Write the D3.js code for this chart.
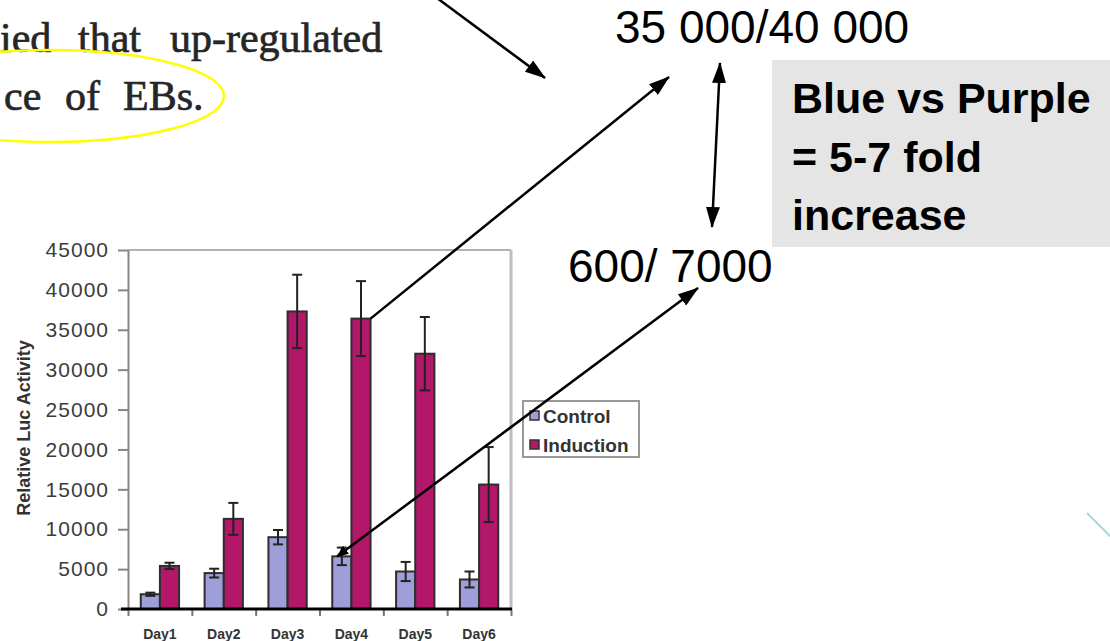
<!DOCTYPE html>
<html>
<head>
<meta charset="utf-8">
<script src="https://cdn.jsdelivr.net/npm/d3@7"></script>
<style type="text/css">
	body { margin:0; background:#fff; overflow:hidden; }
	.tick text { font-family:"Liberation Sans", Arial, sans-serif; }
</style>
</head>
<body>
<svg id="lucSvg" width="1110" height="641"></svg>
<script type="text/javascript">
	// values
	var days = ["Day1", "Day2", "Day3", "Day4", "Day5", "Day6"];
	var series = ["Control", "Induction"];
	var control = [1850, 4500, 9000, 6600, 4700, 3700];
	var controlErr = [200, 550, 900, 1100, 1200, 1000];
	var induction = [5400, 11300, 37300, 36400, 32000, 15600];
	var inductionErr = [400, 2000, 4600, 4700, 4600, 4700];
	var yTicks = [0, 5000, 10000, 15000, 20000, 25000, 30000, 35000, 40000, 45000];
	var colors = {Control: "#9e9ed8", Induction: "#b3176a"};

	var data = days.map(function(d, i) {
		return {day: d, vals: [
			{key: "Control", v: control[i], e: controlErr[i]},
			{key: "Induction", v: induction[i], e: inductionErr[i]}
		]};
	});

	var svg = d3.select("#lucSvg"),
	    margin = {top: 250, right: 599, bottom: 32, left: 128},
	    width = +svg.attr("width") - margin.left - margin.right,
	    height = +svg.attr("height") - margin.top - margin.bottom;

	var defs = svg.append("defs");
	defs.append("marker").attr("id", "head")
	    .attr("markerUnits", "userSpaceOnUse")
	    .attr("viewBox", "0 0 21 14").attr("markerWidth", 21).attr("markerHeight", 14)
	    .attr("refX", 20).attr("refY", 7).attr("orient", "auto-start-reverse")
	  .append("path").attr("d", "M0,0 L21,7 L0,14 Z").attr("fill", "#000");
	defs.append("marker").attr("id", "smallHead")
	    .attr("markerUnits", "userSpaceOnUse")
	    .attr("viewBox", "0 0 12 10").attr("markerWidth", 12).attr("markerHeight", 10)
	    .attr("refX", 11).attr("refY", 5).attr("orient", "auto-start-reverse")
	  .append("path").attr("d", "M0,0 L12,5 L0,10 Z").attr("fill", "#000");

	var x0 = d3.scaleBand().domain(days).range([0, width]).paddingInner(0.4).paddingOuter(0.2),
	    x1 = d3.scaleBand().domain(series).range([0, x0.bandwidth()]),
	    y = d3.scaleLinear().domain([0, 45000]).range([height, 0]);

	var g = svg.append("g")
	    .attr("transform", "translate(" + margin.left + "," + margin.top + ")");

	// frame top + right
	g.append("line").attr("x1", 0).attr("x2", width).attr("y1", 0).attr("y2", 0)
	    .attr("stroke", "#b8b0b0").attr("stroke-width", 2);
	g.append("line").attr("x1", width).attr("x2", width).attr("y1", 0).attr("y2", height)
	    .attr("stroke", "#c4bcbc").attr("stroke-width", 3);

	var yAxis = g.append("g")
	    .attr("class", "axis axis--y")
	    .call(d3.axisLeft(y).tickValues(yTicks).tickFormat(d3.format("d"))
	        .tickSize(10).tickSizeOuter(0).tickPadding(9));
	yAxis.select(".domain").attr("stroke", "#8c8484").attr("stroke-width", 2);
	yAxis.selectAll(".tick line").attr("stroke", "#8c8484").attr("stroke-width", 2);
	yAxis.selectAll(".tick text")
	    .attr("fill", "#3c3c3c")
	    .style("font-size", "21px")
	    .style("letter-spacing", "1px");

	g.append("text")
	    .attr("transform", "translate(" + (24 - margin.left) + "," + (428 - margin.top) + ") rotate(-90)")
	    .attr("text-anchor", "middle")
	    .attr("dy", "0.35em")
	    .style("font-family", "Liberation Sans, Arial, sans-serif")
	    .style("font-weight", "bold")
	    .style("font-size", "18px")
	    .attr("fill", "#333")
	    .text("Relative Luc Activity");

	// bars
	var groups = g.selectAll(".day")
	    .data(data)
	    .enter().append("g")
	      .attr("class", "day")
	      .attr("transform", function(d) { return "translate(" + x0(d.day) + ",0)"; });

	groups.selectAll(".bar")
	    .data(function(d) { return d.vals; })
	    .enter().append("rect")
	      .attr("class", "bar")
	      .attr("x", function(d) { return x1(d.key); })
	      .attr("y", function(d) { return y(d.v); })
	      .attr("width", x1.bandwidth())
	      .attr("height", function(d) { return height - y(d.v); })
	      .attr("fill", function(d) { return colors[d.key]; })
	      .attr("stroke", "#2e2e2e")
	      .attr("stroke-width", 2);

	var err = groups.selectAll(".err")
	    .data(function(d) { return d.vals; })
	    .enter().append("g")
	      .attr("class", "err")
	      .attr("stroke", "#222")
	      .attr("stroke-width", 2);
	err.append("line")
	    .attr("x1", function(d) { return x1(d.key) + x1.bandwidth() / 2; })
	    .attr("x2", function(d) { return x1(d.key) + x1.bandwidth() / 2; })
	    .attr("y1", function(d) { return y(d.v + d.e); })
	    .attr("y2", function(d) { return y(d.v - d.e); });
	[1, -1].forEach(function(s) {
		err.append("line")
		    .attr("x1", function(d) { return x1(d.key) + x1.bandwidth() / 2 - 5; })
		    .attr("x2", function(d) { return x1(d.key) + x1.bandwidth() / 2 + 5; })
		    .attr("y1", function(d) { return y(d.v + s * d.e); })
		    .attr("y2", function(d) { return y(d.v + s * d.e); });
	});

	// x axis: labels centred, ticks on band edges
	var xAxis = g.append("g")
	    .attr("class", "axis axis--x")
	    .attr("transform", "translate(0," + height + ")")
	    .call(d3.axisBottom(x0).tickSize(0).tickPadding(20));
	xAxis.select(".domain").remove();
	xAxis.selectAll(".tick text")
	    .attr("fill", "#333")
	    .style("font-size", "14px")
	    .style("font-weight", "bold");
	var edges = g.append("g")
	    .attr("transform", "translate(0," + height + ")")
	    .call(d3.axisBottom(d3.scaleLinear().domain([0, days.length]).range([0, width]))
	        .ticks(days.length).tickSize(7).tickSizeOuter(0).tickFormat(""));
	edges.select(".domain").remove();
	edges.selectAll(".tick line").attr("stroke", "#777").attr("stroke-width", 2);
	g.append("line").attr("x1", -7).attr("x2", width + 1).attr("y1", height).attr("y2", height)
	    .attr("stroke", "#000").attr("stroke-width", 3);

	// legend
	var legend = svg.append("g").attr("transform", "translate(523,401)");
	legend.append("rect").attr("width", 116).attr("height", 56)
	    .attr("fill", "#fff").attr("stroke", "#9a9a9a").attr("stroke-width", 2);
	legend.selectAll(".lg")
	    .data(series)
	    .enter().append("g")
	      .attr("transform", function(d, i) { return "translate(7," + (10 + i * 29) + ")"; })
	      .each(function(d) {
		      d3.select(this).append("rect").attr("width", 9).attr("height", 9)
		          .attr("fill", colors[d]).attr("stroke", "#333").attr("stroke-width", 1.5);
		      d3.select(this).append("text").attr("x", 13).attr("y", 12)
		          .style("font-family", "Liberation Sans, Arial, sans-serif")
		          .style("font-weight", "bold").style("font-size", "19px")
		          .attr("fill", "#333").text(d);
	      });

	// slide annotations
	var serif = "Liberation Serif, Times New Roman, serif",
	    sans = "Liberation Sans, Arial, sans-serif";
	var words = [["ied", 0, 52], ["that", 78, 52], ["up-regulated", 170, 52],
	             ["ce", 4, 110], ["of", 65, 110], ["EBs.", 123, 110]];
	svg.selectAll(".para")
	    .data(words)
	    .enter().append("text")
	      .attr("x", function(d) { return d[1]; })
	      .attr("y", function(d) { return d[2]; })
	      .style("font-family", serif).style("font-size", "42px")
	      .attr("fill", "#262626")
	      .attr("stroke", "#262626").attr("stroke-width", 0.7)
	      .text(function(d) { return d[0]; });
	svg.append("ellipse").attr("cx", 50).attr("cy", 96).attr("rx", 174).attr("ry", 46)
	    .attr("fill", "none").attr("stroke", "#ffff00").attr("stroke-width", 2.5);

	svg.append("text").attr("x", 615).attr("y", 43)
	    .style("font-family", sans).style("font-size", "46px").text("35 000/40 000");
	svg.append("text").attr("x", 568).attr("y", 282)
	    .style("font-family", sans).style("font-size", "46px").text("600/ 7000");

	svg.append("rect").attr("x", 772).attr("y", 60).attr("width", 340).attr("height", 187)
	    .attr("fill", "#e5e5e5");
	["Blue vs Purple", "= 5-7 fold", "increase"].forEach(function(t, i) {
		svg.append("text").attr("x", 792).attr("y", 113 + i * 58.5)
		    .style("font-family", sans).style("font-weight", "bold").style("font-size", "43px")
		    .text(t);
	});

	// arrows, two of them start at the bars they point from
	var day4 = x0("Day4") + margin.left;
	var arrows = [
		{x1: 437, y1: -2, x2: 545, y2: 78, end: "head"},
		{x1: day4 + x1("Induction") + x1.bandwidth(), y1: y(induction[3]) + margin.top, x2: 669, y2: 77, end: "head"},
		{x1: 712, y1: 227, x2: 720, y2: 63, end: "head", start: "head"},
		{x1: day4 + x1("Control") + 5, y1: y(control[3]) + margin.top, x2: 698, y2: 288, end: "head", start: "smallHead"}
	];
	arrows.forEach(function(a) {
		svg.append("line")
		    .attr("x1", a.x1).attr("y1", a.y1).attr("x2", a.x2).attr("y2", a.y2)
		    .attr("stroke", "#000").attr("stroke-width", 2.5)
		    .attr("marker-end", "url(#" + a.end + ")")
		    .attr("marker-start", a.start ? "url(#" + a.start + ")" : null);
	});

	svg.append("line").attr("x1", 1087).attr("y1", 513).attr("x2", 1112).attr("y2", 538)
	    .attr("stroke", "#a6dada").attr("stroke-width", 2);
</script>
</body>
</html>
